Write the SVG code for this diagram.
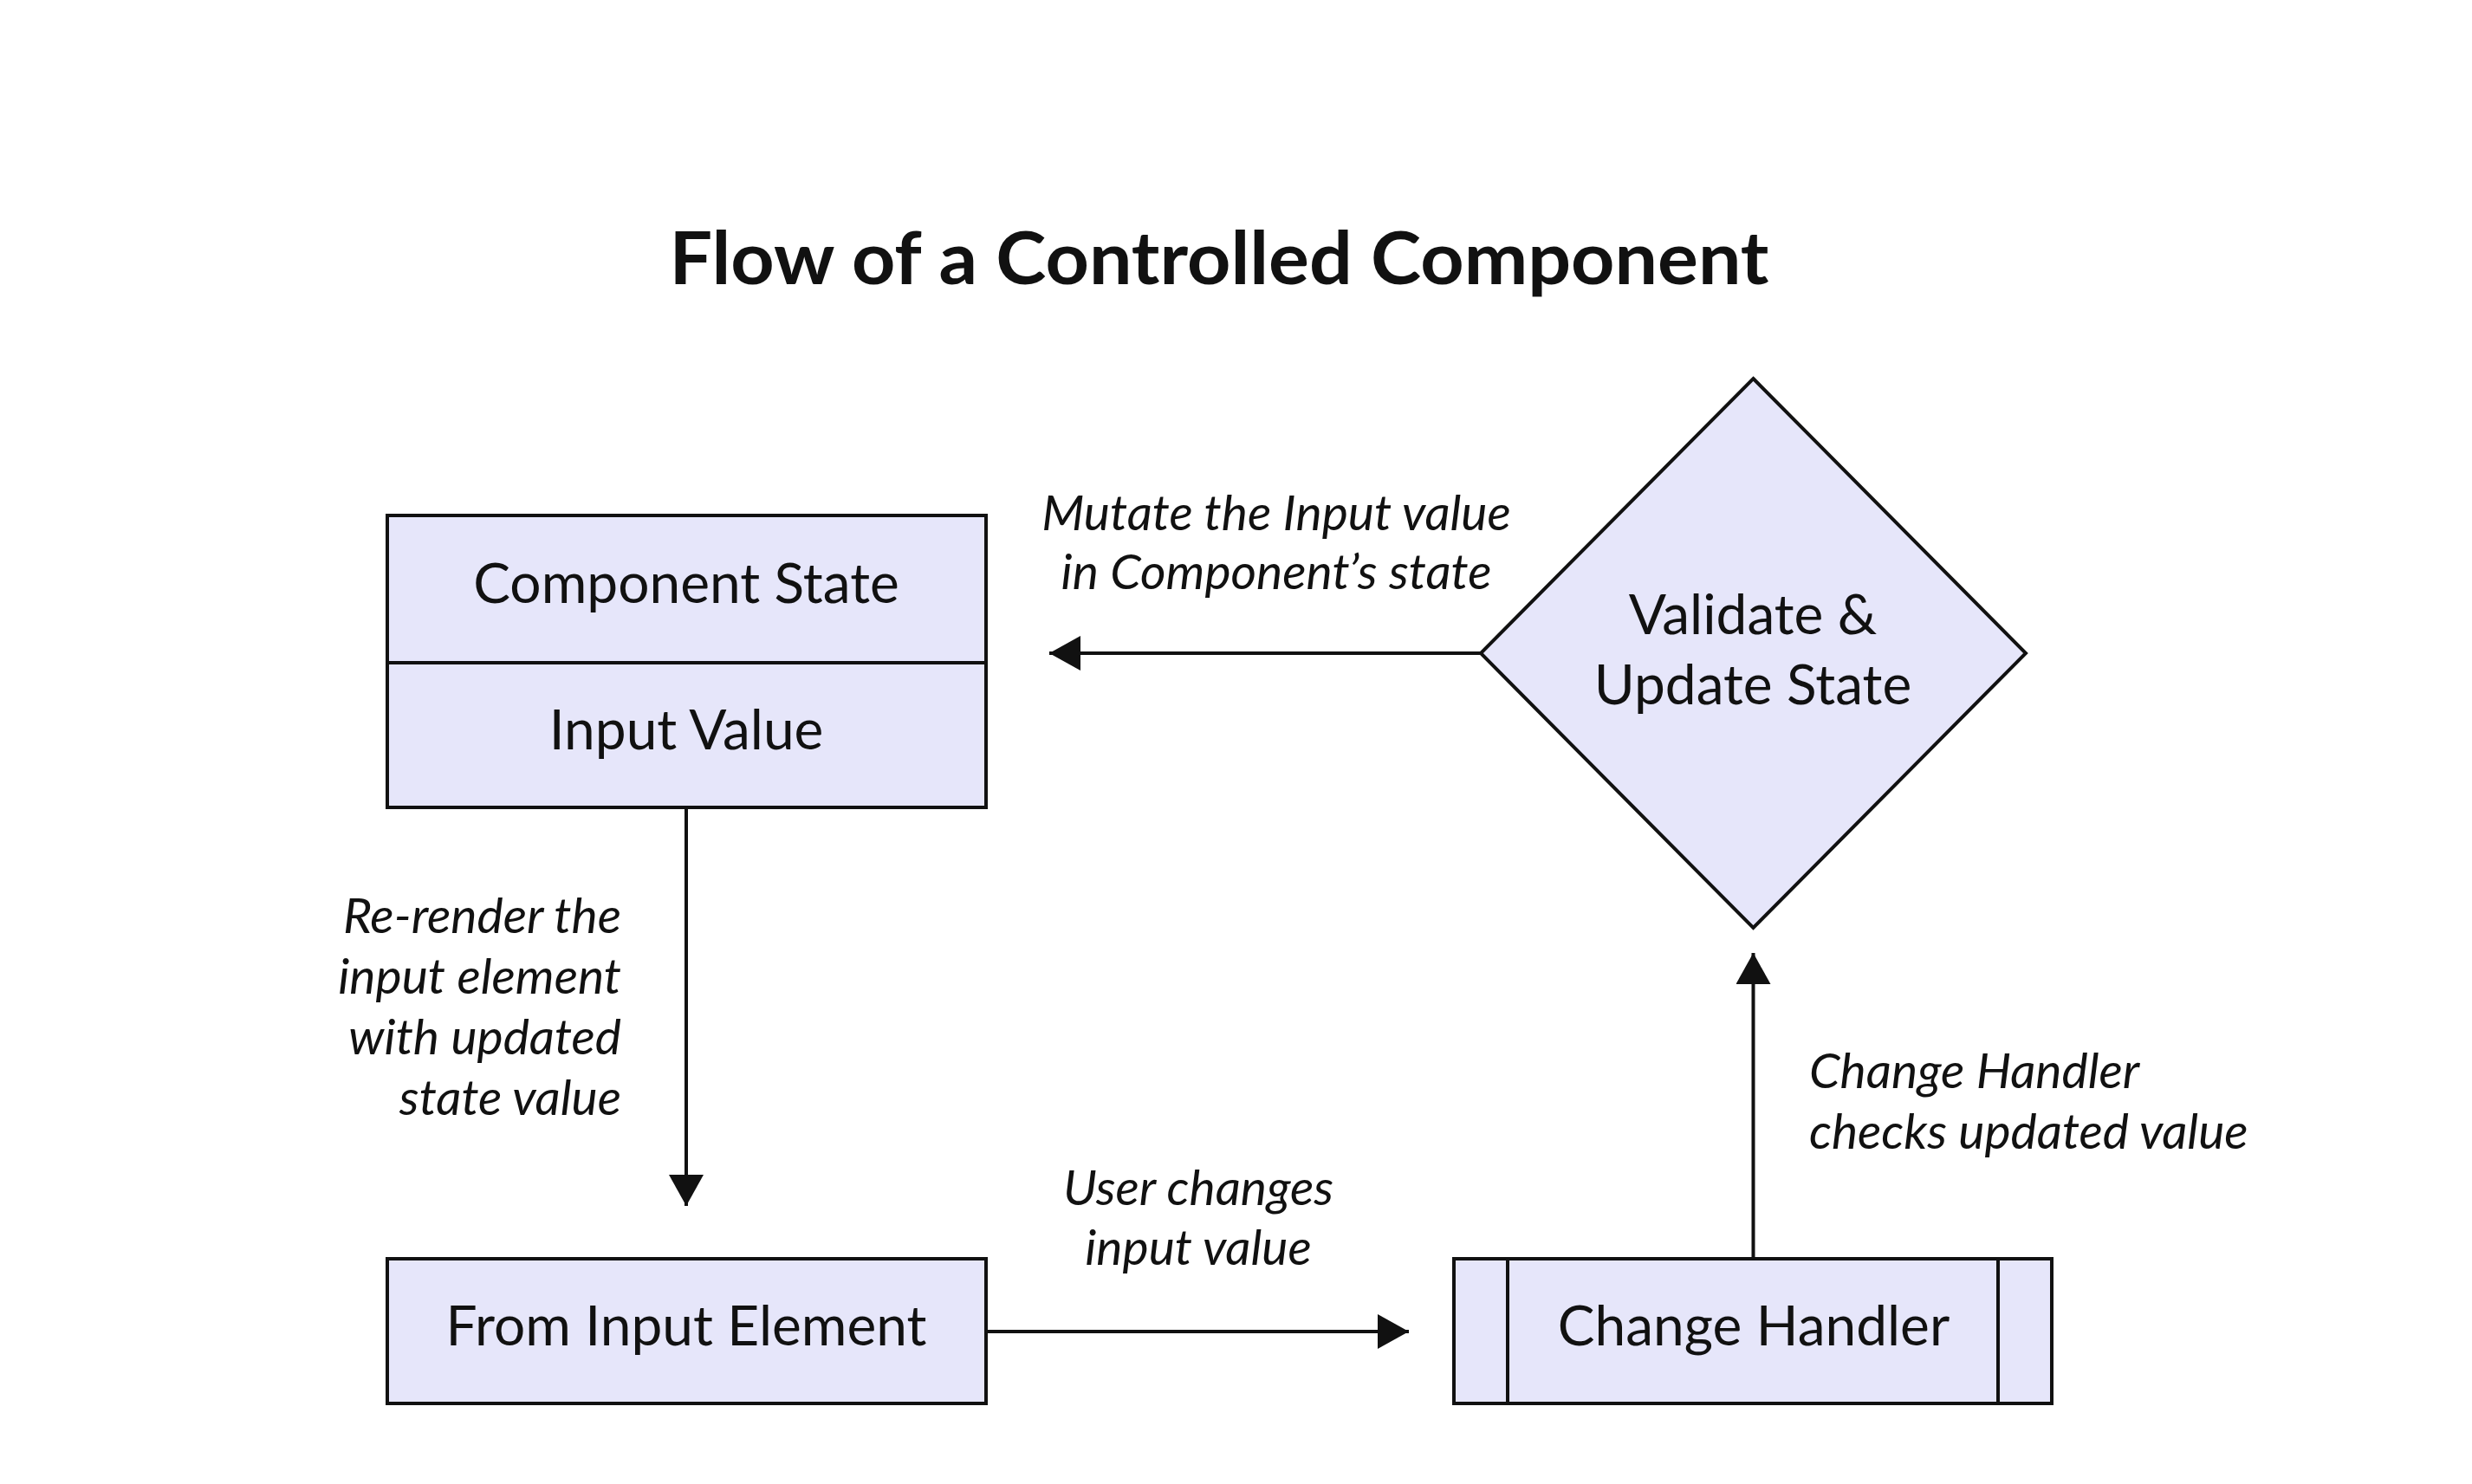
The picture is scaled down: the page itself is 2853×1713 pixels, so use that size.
<svg xmlns="http://www.w3.org/2000/svg" width="2853" height="1713" viewBox="0 0 2853 1713">
<defs>
<style>
.node{fill:#E6E6FA;stroke:#111;stroke-width:4}
.thin{stroke:#111;stroke-width:4;fill:none}
.lbl{font-family:Lato,"Liberation Sans",sans-serif;font-size:64px;fill:#111;text-anchor:middle}
.edge{font-family:Lato,"Liberation Sans",sans-serif;font-size:57px;font-style:italic;fill:#111}
.title{font-family:Lato,"Liberation Sans",sans-serif;font-size:85px;font-weight:bold;fill:#111;text-anchor:middle}
.conn{stroke:#111;stroke-width:4;fill:none}
</style>
<marker id="arr" viewBox="0 0 36 40" refX="36" refY="20" markerWidth="36" markerHeight="40" markerUnits="userSpaceOnUse" orient="auto">
<path d="M0,0 L36,20 L0,40 Z" fill="#111"/>
</marker>
</defs>
<rect width="2853" height="1713" fill="#fff"/>
<text class="title" x="1407" y="328" textLength="1269" lengthAdjust="spacingAndGlyphs">Flow of a Controlled Component</text>
<g id="component-state">
<rect class="node" x="447" y="595" width="691" height="337"/>
<line class="thin" x1="447" y1="765" x2="1138" y2="765"/>
<text class="lbl" x="792" y="696">Component State</text>
<text class="lbl" x="792" y="865">Input Value</text>
</g>
<g id="validate">
<polygon class="node" points="2023.5,437 2338,754 2023.5,1071 1709,754"/>
<text class="lbl" x="2023" y="732">Validate &amp;</text>
<text class="lbl" x="2023" y="813">Update State</text>
</g>
<g id="input-element">
<rect class="node" x="447" y="1453" width="691" height="167"/>
<text class="lbl" x="792" y="1553">From Input Element</text>
</g>
<g id="change-handler">
<rect class="node" x="1678" y="1453" width="690" height="167"/>
<line class="thin" x1="1740" y1="1453" x2="1740" y2="1620"/>
<line class="thin" x1="2306" y1="1453" x2="2306" y2="1620"/>
<text class="lbl" x="2024" y="1553">Change Handler</text>
</g>
<g id="connectors">
<line class="conn" x1="1709" y1="754" x2="1211" y2="754" marker-end="url(#arr)"/>
<line class="conn" x1="792" y1="932" x2="792" y2="1392" marker-end="url(#arr)"/>
<line class="conn" x1="1138" y1="1537" x2="1626" y2="1537" marker-end="url(#arr)"/>
<line class="conn" x1="2023.5" y1="1453" x2="2023.5" y2="1100" marker-end="url(#arr)"/>
<text class="edge" x="1473" y="612" text-anchor="middle">Mutate the Input value</text>
<text class="edge" x="1473" y="680" text-anchor="middle">in Component’s state</text>
<text class="edge" x="717" y="1077" text-anchor="end">Re-render the</text>
<text class="edge" x="717" y="1147" text-anchor="end">input element</text>
<text class="edge" x="717" y="1217" text-anchor="end">with updated</text>
<text class="edge" x="717" y="1287" text-anchor="end">state value</text>
<text class="edge" x="1383" y="1391" text-anchor="middle">User changes</text>
<text class="edge" x="1383" y="1460" text-anchor="middle">input value</text>
<text class="edge" x="2088" y="1256">Change Handler</text>
<text class="edge" x="2088" y="1326">checks updated value</text>
</g>
</svg>
